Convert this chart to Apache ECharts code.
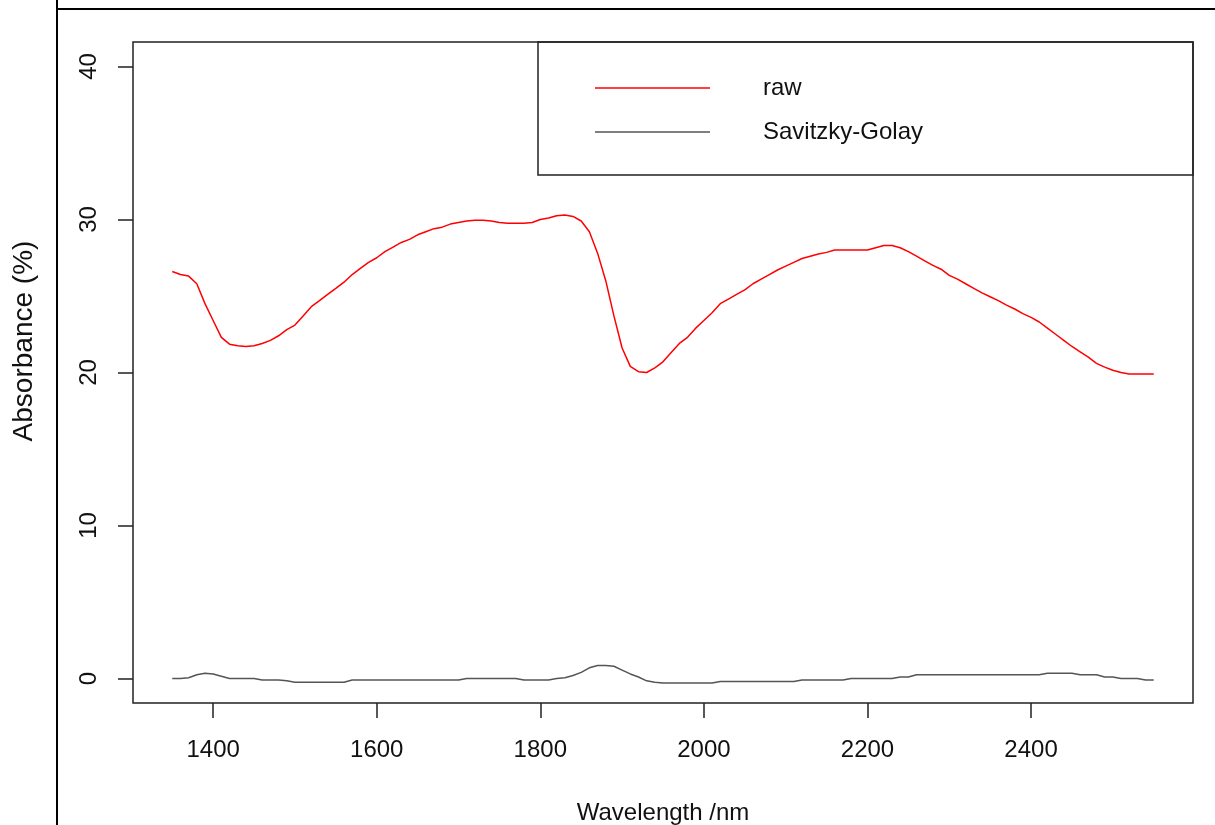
<!DOCTYPE html>
<html>
<head>
<meta charset="utf-8">
<script src="https://cdn.jsdelivr.net/npm/echarts@6/dist/echarts.min.js"></script>
<style>
html,body{margin:0;padding:0;background:#fff;}
#chart{width:1215px;height:825px;}
</style>
</head>
<body>
<div id="chart"></div>
<script>
const wavelengths = [
  1350,1360,1370,1380,1390,1400,1410,1420,1430,1440,
  1450,1460,1470,1480,1490,1500,1510,1520,1530,1540,
  1550,1560,1570,1580,1590,1600,1610,1620,1630,1640,
  1650,1660,1670,1680,1690,1700,1710,1720,1730,1740,
  1750,1760,1770,1780,1790,1800,1810,1820,1830,1840,
  1850,1860,1870,1880,1890,1900,1910,1920,1930,1940,
  1950,1960,1970,1980,1990,2000,2010,2020,2030,2040,
  2050,2060,2070,2080,2090,2100,2110,2120,2130,2140,
  2150,2160,2170,2180,2190,2200,2210,2220,2230,2240,
  2250,2260,2270,2280,2290,2300,2310,2320,2330,2340,
  2350,2360,2370,2380,2390,2400,2410,2420,2430,2440,
  2450,2460,2470,2480,2490,2500,2510,2520,2530,2540,
  2550
];
const rawValues = [
  26.6,26.4,26.3,25.8,24.5,23.4,22.3,21.85,21.75,21.7,
  21.75,21.9,22.1,22.4,22.8,23.1,23.7,24.3,24.7,25.1,
  25.5,25.9,26.4,26.8,27.2,27.5,27.9,28.2,28.5,28.7,
  29.0,29.2,29.4,29.5,29.7,29.8,29.9,29.95,29.95,29.9,
  29.8,29.75,29.75,29.75,29.8,30.0,30.1,30.25,30.3,30.2,
  29.9,29.2,27.8,26.0,23.7,21.6,20.4,20.05,20.0,20.3,
  20.7,21.3,21.9,22.3,22.9,23.4,23.9,24.5,24.8,25.1,
  25.4,25.8,26.1,26.4,26.7,26.95,27.2,27.45,27.6,27.75,
  27.85,28.0,28.0,28.0,28.0,28.0,28.15,28.3,28.3,28.15,
  27.9,27.6,27.3,27.0,26.75,26.35,26.1,25.8,25.5,25.2,
  24.95,24.7,24.4,24.15,23.85,23.6,23.3,22.9,22.5,22.1,
  21.7,21.35,21.0,20.6,20.35,20.15,20.0,19.9,19.9,19.9,
  19.9
];
const sgValues = [
  0,0,0.05,0.25,0.35,0.3,0.15,0,0,0,
  0,-0.1,-0.1,-0.1,-0.15,-0.25,-0.25,-0.25,-0.25,-0.25,
  -0.25,-0.25,-0.1,-0.1,-0.1,-0.1,-0.1,-0.1,-0.1,-0.1,
  -0.1,-0.1,-0.1,-0.1,-0.1,-0.1,0,0,0,0,
  0,0,0,-0.1,-0.1,-0.1,-0.1,0,0.05,0.2,
  0.4,0.7,0.85,0.85,0.8,0.55,0.3,0.1,-0.15,-0.25,
  -0.3,-0.3,-0.3,-0.3,-0.3,-0.3,-0.3,-0.2,-0.2,-0.2,
  -0.2,-0.2,-0.2,-0.2,-0.2,-0.2,-0.2,-0.1,-0.1,-0.1,
  -0.1,-0.1,-0.1,0,0,0,0,0,0,0.1,
  0.1,0.25,0.25,0.25,0.25,0.25,0.25,0.25,0.25,0.25,
  0.25,0.25,0.25,0.25,0.25,0.25,0.25,0.35,0.35,0.35,
  0.35,0.25,0.25,0.25,0.1,0.1,0,0,0,-0.1,
  -0.1
];
const xTicks = [1400,1600,1800,2000,2200,2400];
const yTicks = [0,10,20,30,40];
const seriesNames = ['raw','Savitzky-Golay'];
const xTitle = 'Wavelength /nm';
const yTitle = 'Absorbance (%)';

const FONT = 'Liberation Sans, Arial, sans-serif';
const chart = echarts.init(document.getElementById('chart'), null, {renderer:'canvas'});
const option = {
  backgroundColor:'#fff',
  animation:false,
  grid:{left:133, top:42, width:1060, height:661, show:true, borderColor:'#222', borderWidth:1.5,
        backgroundColor:'transparent', containLabel:false, outerBoundsMode:'none'},
  xAxis:{
    type:'value', min:1302, max:2598,
    axisLine:{show:false, onZero:false},
    splitLine:{show:false},
    axisTick:{show:true, length:15, inside:false, customValues:xTicks, lineStyle:{color:'#222', width:1.5}},
    axisLabel:{customValues:xTicks, margin:35, fontSize:24, color:'#111', fontFamily:FONT, formatter:v=>String(v)},
    name:xTitle, nameLocation:'middle', nameGap:98,
    nameTextStyle:{fontSize:24, color:'#111', fontFamily:FONT}
  },
  yAxis:{
    type:'value', min:-1.6, max:41.6,
    axisLine:{show:false, onZero:false},
    splitLine:{show:false},
    axisTick:{show:true, length:15, inside:false, customValues:yTicks, lineStyle:{color:'#222', width:1.5}},
    axisLabel:{customValues:yTicks, rotate:90, margin:32, fontSize:24, color:'#111', fontFamily:FONT, formatter:v=>String(v)}
  },
  legend:{
    orient:'vertical', left:590, top:71, itemGap:20,
    itemWidth:115, itemHeight:1.5, icon:'rect',
    textStyle:{fontSize:24, lineHeight:24, color:'#111', fontFamily:FONT, padding:[0,0,0,48]},
    data:seriesNames.map(n=>({name:n}))
  },
  graphic:[
    {type:'line', shape:{x1:57, y1:0, x2:57, y2:825}, style:{stroke:'#000', lineWidth:2}},
    {type:'line', shape:{x1:56, y1:9, x2:1215, y2:9}, style:{stroke:'#000', lineWidth:2}},
    {type:'rect', shape:{x:538, y:42, width:655, height:133}, style:{fill:'none', stroke:'#222', lineWidth:1.5}},
    {type:'text', x:24, y:341, rotation:Math.PI/2,
     style:{text:yTitle, fontSize:28, fill:'#111', fontFamily:FONT, textAlign:'center', textVerticalAlign:'middle'}}
  ],
  series:[
    {name:seriesNames[0], type:'line', showSymbol:false, symbol:'none',
     data:wavelengths.map((w,i)=>[w, rawValues[i]]),
     lineStyle:{color:'#ff0000', width:1.5}, itemStyle:{color:'#ff0000'}},
    {name:seriesNames[1], type:'line', showSymbol:false, symbol:'none',
     data:wavelengths.map((w,i)=>[w, sgValues[i]]),
     lineStyle:{color:'#555', width:1.5}, itemStyle:{color:'#555'}}
  ]
};
chart.setOption(option);
</script>
</body>
</html>
